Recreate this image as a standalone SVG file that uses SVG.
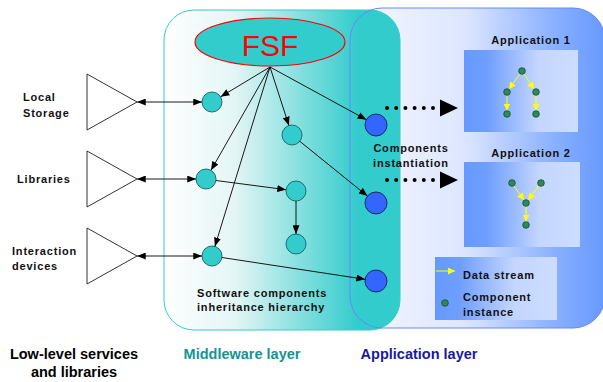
<svg xmlns="http://www.w3.org/2000/svg" width="603" height="382" viewBox="0 0 603 382">
  <defs>
    <linearGradient id="gMid" x1="0" y1="0" x2="1" y2="0">
      <stop offset="0" stop-color="#FFFFFF"/>
      <stop offset="0.3" stop-color="#E4F5F5"/>
      <stop offset="0.82" stop-color="#33CCCC"/>
      <stop offset="1" stop-color="#33CCCC"/>
    </linearGradient>
    <linearGradient id="gApp" x1="0" y1="0" x2="1" y2="0">
      <stop offset="0" stop-color="#F6F8FF"/>
      <stop offset="0.45" stop-color="#DDE6FF"/>
      <stop offset="0.8" stop-color="#8AB0FF"/>
      <stop offset="1" stop-color="#6699FF"/>
    </linearGradient>
    <linearGradient id="gBox" x1="0" y1="0" x2="1" y2="0">
      <stop offset="0" stop-color="#6699FF"/>
      <stop offset="0.2" stop-color="#6E9EFF"/>
      <stop offset="0.65" stop-color="#C4D6FF"/>
      <stop offset="1" stop-color="#CCDDFF"/>
    </linearGradient>
    <marker id="ah" viewBox="0 0 10 8" refX="10" refY="4" markerWidth="9" markerHeight="7" markerUnits="userSpaceOnUse" orient="auto-start-reverse">
      <path d="M0,0 L10,4 L0,8 z" fill="#000"/>
    </marker>
    <marker id="ay" viewBox="0 0 10 10" refX="10" refY="5" markerWidth="7" markerHeight="7" markerUnits="userSpaceOnUse" orient="auto">
      <path d="M0,0 L10,5 L0,10 z" fill="#FFFF00"/>
    </marker>
  </defs>
  <style>
    .lbl { font-family: "Liberation Sans", Arial, sans-serif; font-weight: bold; font-size: 11px; letter-spacing: 0.8px; fill: #111; }
    .big { font-family: "Liberation Sans", Arial, sans-serif; font-weight: bold; font-size: 14.5px; }
    .tri { fill: #FFFFFF; stroke: #000; stroke-width: 0.8; }
    .tc { fill: #33CCCC; stroke: #1E6E6E; stroke-width: 1; }
    .bc { fill: #3366FF; stroke: #1A2A66; stroke-width: 1; }
    .gd { fill: #2E8B57; stroke: #1D4A30; stroke-width: 0.8; }
    .ln { stroke: #000; stroke-width: 0.9; fill: none; marker-end: url(#ah); }
    .bi { stroke: #000; stroke-width: 0.9; fill: none; marker-start: url(#ah); marker-end: url(#ah); }
    .ys { stroke: #FFFF00; stroke-width: 1; fill: none; marker-end: url(#ay); }
    .dots { stroke: #000; stroke-width: 4; stroke-linecap: round; stroke-dasharray: 0 9.2; fill: none; }
    .box { fill: url(#gBox); }
  </style>

  <!-- layer backgrounds -->
  <g id="application-layer-bg">
    <rect x="350" y="8" width="255" height="320" rx="32" fill="url(#gApp)"/>
  </g>
  <g id="middleware-layer">
    <rect x="164" y="10" width="236" height="320" rx="30" fill="url(#gMid)" stroke="#33CCCC" stroke-width="1"/>
  </g>
  <g id="application-layer-outline">
    <rect x="350" y="8" width="255" height="320" rx="32" fill="none" stroke="#6688FF" stroke-width="1"/>
  </g>

  <!-- low-level services -->
  <g id="local-storage">
    <polygon class="tri" points="87,74 87,130 137,102"/>
    <text class="lbl" x="23" y="101">Local</text>
    <text class="lbl" x="23" y="117">Storage</text>
  </g>
  <g id="libraries">
    <polygon class="tri" points="87,151 87,207 137,179"/>
    <text class="lbl" x="17" y="183">Libraries</text>
  </g>
  <g id="interaction-devices">
    <polygon class="tri" points="87,228 87,284 137,256"/>
    <text class="lbl" x="12" y="255">Interaction</text>
    <text class="lbl" x="12" y="270">devices</text>
  </g>

  <!-- FSF root -->
  <g id="fsf">
    <ellipse cx="270" cy="42" rx="75" ry="24" fill="#33CCCC" stroke="#FF0000" stroke-width="1.2"/>
    <text x="270" y="56" text-anchor="middle" font-family="'Liberation Sans', Arial, sans-serif" font-size="30" fill="#FF0000">FSF</text>
  </g>

  <!-- software components -->
  <g id="comp-1"><circle class="tc" cx="212" cy="102" r="10"/></g>
  <g id="comp-2"><circle class="tc" cx="292" cy="135" r="10"/></g>
  <g id="comp-3"><circle class="tc" cx="206" cy="179" r="10"/></g>
  <g id="comp-4"><circle class="tc" cx="296" cy="191" r="10"/></g>
  <g id="comp-5"><circle class="tc" cx="296" cy="244" r="10"/></g>
  <g id="comp-6"><circle class="tc" cx="212" cy="256" r="10"/></g>

  <!-- instantiated components -->
  <g id="inst-1"><circle class="bc" cx="376" cy="125" r="11"/></g>
  <g id="inst-2"><circle class="bc" cx="376" cy="203" r="11"/></g>
  <g id="inst-3"><circle class="bc" cx="376" cy="281" r="11"/></g>

  <g id="hierarchy-caption">
    <text class="lbl" x="197" y="297">Software components</text>
    <text class="lbl" x="197" y="311">inheritance hierarchy</text>
  </g>
  <g id="instantiation-caption">
    <text class="lbl" x="411" y="152" text-anchor="middle">Components</text>
    <text class="lbl" x="411" y="167" text-anchor="middle">instantiation</text>
  </g>

  <!-- applications -->
  <g id="application-1">
    <text class="lbl" x="531" y="44" text-anchor="middle">Application 1</text>
    <rect class="box" x="464" y="50" width="114" height="82"/>
    <line class="ys" x1="520" y1="73.8" x2="509" y2="89.2"/>
    <line class="ys" x1="524" y1="73.8" x2="534" y2="89.2"/>
    <line class="ys" x1="507" y1="95.5" x2="507" y2="110.5"/>
    <line class="ys" x1="536" y1="95.5" x2="536" y2="110.5"/>
    <circle class="gd" cx="522" cy="71" r="3.3"/>
    <circle class="gd" cx="507" cy="92" r="3.3"/>
    <circle class="gd" cx="536" cy="92" r="3.3"/>
    <circle class="gd" cx="507" cy="114" r="3.3"/>
    <circle class="gd" cx="536" cy="114" r="3.3"/>
  </g>
  <g id="application-2">
    <text class="lbl" x="531" y="157" text-anchor="middle">Application 2</text>
    <rect class="box" x="464" y="162" width="116" height="85"/>
    <line class="ys" x1="514" y1="185.9" x2="524" y2="200.1"/>
    <line class="ys" x1="539" y1="185.4" x2="528.1" y2="200.2"/>
    <line class="ys" x1="526" y1="206.5" x2="526" y2="221.5"/>
    <circle class="gd" cx="512" cy="183" r="3.3"/>
    <circle class="gd" cx="541" cy="183" r="3.3"/>
    <circle class="gd" cx="526" cy="203" r="3.3"/>
    <circle class="gd" cx="526" cy="225" r="3.3"/>
  </g>
  <g id="legend">
    <rect class="box" x="435" y="257" width="122" height="63"/>
    <line class="ys" x1="436" y1="271" x2="455" y2="271"/>
    <text class="lbl" x="463" y="279">Data stream</text>
    <circle class="gd" cx="445" cy="303" r="3.3"/>
    <text class="lbl" x="463" y="301">Component</text>
    <text class="lbl" x="463" y="316">instance</text>
  </g>

  <!-- connectors -->
  <g id="connectors">
    <line class="bi" x1="137" y1="102" x2="202" y2="102"/>
    <line class="bi" x1="137" y1="179" x2="196" y2="179"/>
    <line class="bi" x1="137" y1="256" x2="202" y2="256"/>
    <line class="ln" x1="270" y1="67" x2="220.6" y2="96.8"/>
    <line class="ln" x1="270" y1="67" x2="288.9" y2="125.5"/>
    <line class="ln" x1="270" y1="67" x2="366.4" y2="119.7"/>
    <line class="ln" x1="270" y1="67" x2="211" y2="170.3"/>
    <line class="ln" x1="270" y1="67" x2="214.9" y2="246.4"/>
    <line class="ln" x1="216" y1="180.5" x2="286" y2="189.7"/>
    <line class="ln" x1="296" y1="201" x2="296" y2="234"/>
    <line class="ln" x1="299.8" y1="141.3" x2="367.5" y2="196.1"/>
    <line class="ln" x1="221.9" y1="257.5" x2="365.1" y2="279.3"/>
    <line class="dots" x1="387" y1="108" x2="434" y2="108"/>
    <polygon points="440,99.5 458,108 440,116.5" fill="#000"/>
    <line class="dots" x1="387" y1="180" x2="434" y2="180"/>
    <polygon points="440,171.5 458,180 440,188.5" fill="#000"/>
  </g>

  <!-- layer titles -->
  <g id="layer-titles">
    <text class="big" x="74" y="359" text-anchor="middle" fill="#000">Low-level services</text>
    <text class="big" x="74" y="377" text-anchor="middle" fill="#000">and libraries</text>
    <text class="big" x="242" y="359" text-anchor="middle" fill="#139494">Middleware layer</text>
    <text class="big" x="419" y="359" text-anchor="middle" fill="#1A1A9E">Application layer</text>
  </g>
</svg>
